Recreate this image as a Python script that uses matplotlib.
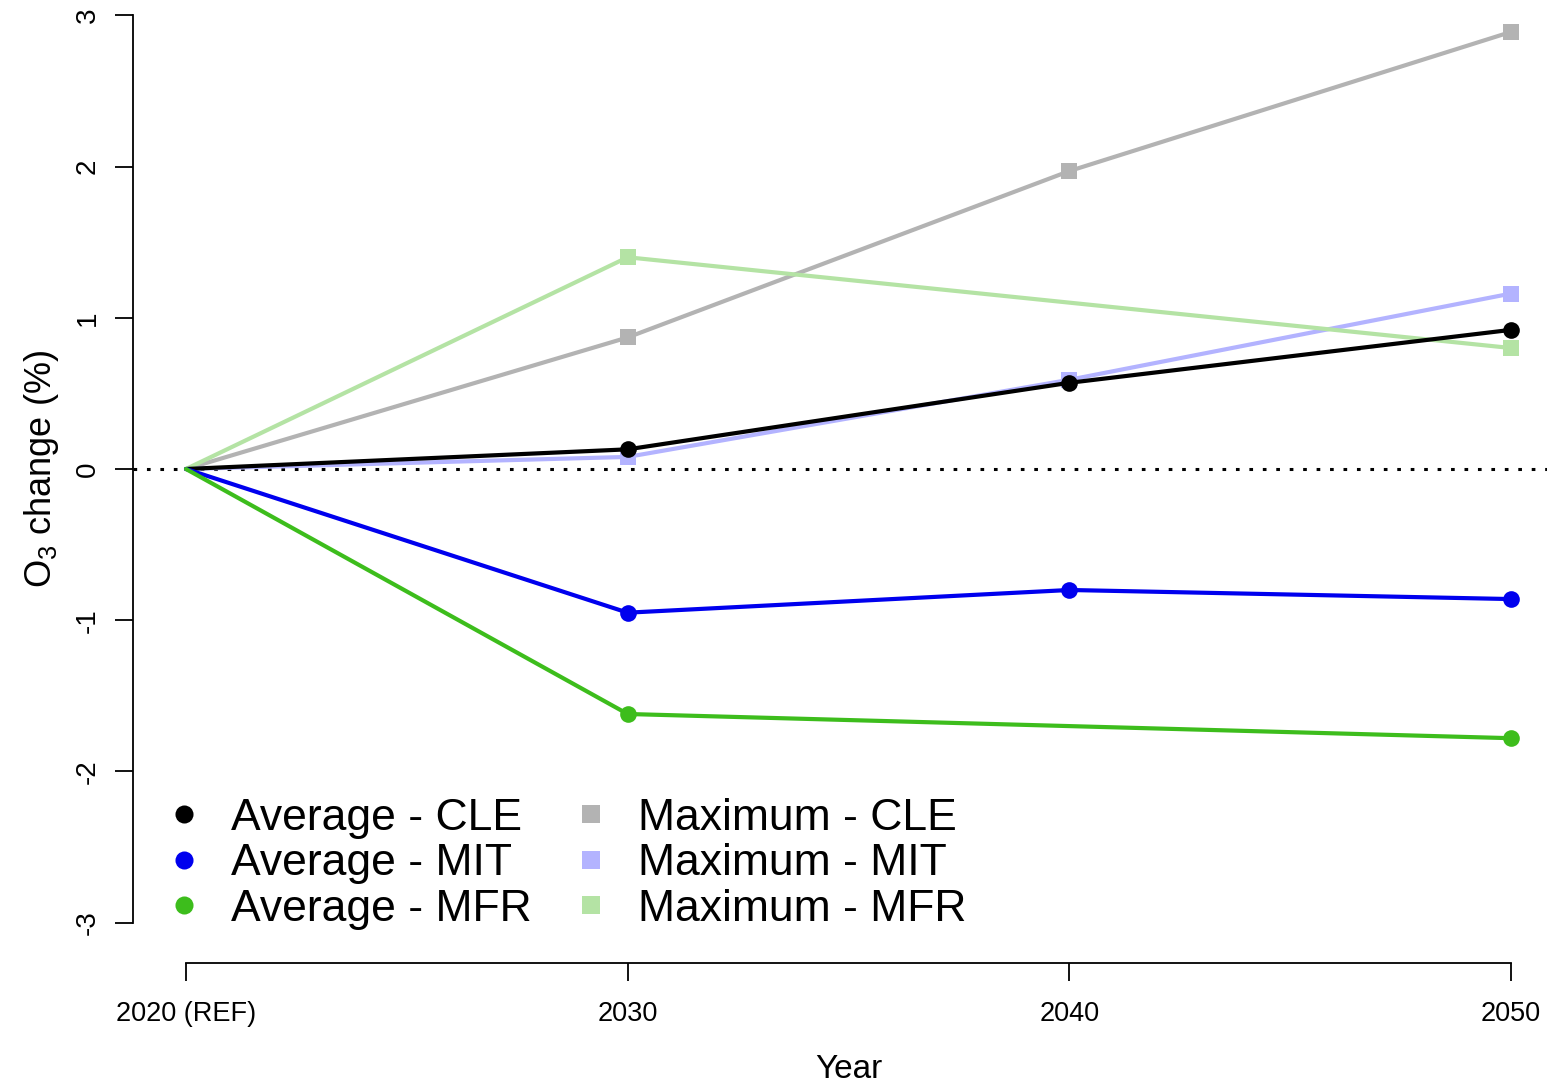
import numpy as np
import matplotlib
matplotlib.use("Agg")
import matplotlib.pyplot as plt
from matplotlib.lines import Line2D

plt.rcParams['font.family'] = ['Liberation Sans', 'DejaVu Sans']
plt.rcParams['mathtext.fontset'] = 'custom'
plt.rcParams['mathtext.rm'] = 'Liberation Sans'

# Data: change in O3 (%) relative to the 2020 reference year
years = [2020, 2030, 2040, 2050]
tick_labels = ["2020 (REF)", "2030", "2040", "2050"]

avg_cle = [0.0, 0.13, 0.57, 0.92]
avg_mit = [0.0, -0.95, -0.80, -0.86]
avg_mfr = [0.0, -1.62, np.nan, -1.78]

max_cle = [0.0, 0.87, 1.97, 2.89]
max_mit = [0.0, 0.08, 0.59, 1.16]
max_mfr = [0.0, 1.40, np.nan, 0.80]

series_avg = [("Average - CLE", avg_cle, "#000000"),
              ("Average - MIT", avg_mit, "#0000ee"),
              ("Average - MFR", avg_mfr, "#3dbd1c")]
series_max = [("Maximum - CLE", max_cle, "#b3b3b3"),
              ("Maximum - MIT", max_mit, "#b3b3ff"),
              ("Maximum - MFR", max_mfr, "#b4e3a4")]

fig = plt.figure(figsize=(15.47, 10.83), dpi=100)
ax = fig.add_axes([133 / 1547, 124 / 1083, 1431 / 1547, 980 / 1083])
ax.set_xlim(2018.8, 2051.2)
ax.set_ylim(-3.24, 3.24)


def draw(values, color, marker, ms, z):
    x = np.array(years, dtype=float)
    y = np.array(values, dtype=float)
    ok = ~np.isnan(y)
    ax.plot(x[ok], y[ok], color=color, lw=3.0, zorder=z, solid_capstyle='round')
    ax.plot(x[ok][1:], y[ok][1:], linestyle='none', marker=marker, ms=ms,
            color=color, markeredgewidth=0, zorder=z + 0.5)


ax.axhline(0, color='black', lw=2.2, linestyle=(0, (1.2, 3.2)), zorder=1)

for i, (lab, vals, col) in enumerate(series_max):
    draw(vals, col, 's', 12, 2 + i)
for i, (lab, vals, col) in enumerate(series_avg):
    draw(vals, col, 'o', 12, 6 + i)

# R-style axes: detached lines spanning the tick range only
for side in ['top', 'right']:
    ax.spines[side].set_visible(False)
ax.spines['left'].set_bounds(-3, 3)
ax.spines['bottom'].set_bounds(2020, 2050)
ax.spines['left'].set_linewidth(1.3)
ax.spines['bottom'].set_linewidth(1.3)
ax.spines['bottom'].set_position(('outward', 3))

ax.set_yticks([-3, -2, -1, 0, 1, 2, 3])
ax.set_yticklabels(["-3", "-2", "-1", "0", "1", "2", "3"], rotation=90,
                   va='center')
ax.set_xticks(years)
ax.set_xticklabels(tick_labels)
ax.tick_params(axis='both', length=13, width=1.3, pad=10)
ax.tick_params(axis='x', labelsize=19.5, pad=14)
ax.tick_params(axis='y', labelsize=20)

ax.set_xlabel("Year", fontsize=24, labelpad=20)
ax.set_ylabel(r"O$_{\mathregular{3}}$ change (%)", fontsize=26, labelpad=10)

handles = []
for lab, vals, col in series_avg:
    handles.append(Line2D([], [], linestyle='none', marker='o', ms=13,
                          color=col, markeredgewidth=0, label=lab))
for lab, vals, col in series_max:
    handles.append(Line2D([], [], linestyle='none', marker='s', ms=13,
                          color=col, markeredgewidth=0, label=lab))

ax.legend(handles=handles, ncol=2, loc='lower left',
          bbox_to_anchor=(0.02, 0.03), frameon=False, fontsize=32,
          handlelength=1.0, handletextpad=0.55, columnspacing=0.85,
          labelspacing=0.1, borderaxespad=0, borderpad=0)

fig.savefig("out.png", dpi=100)
